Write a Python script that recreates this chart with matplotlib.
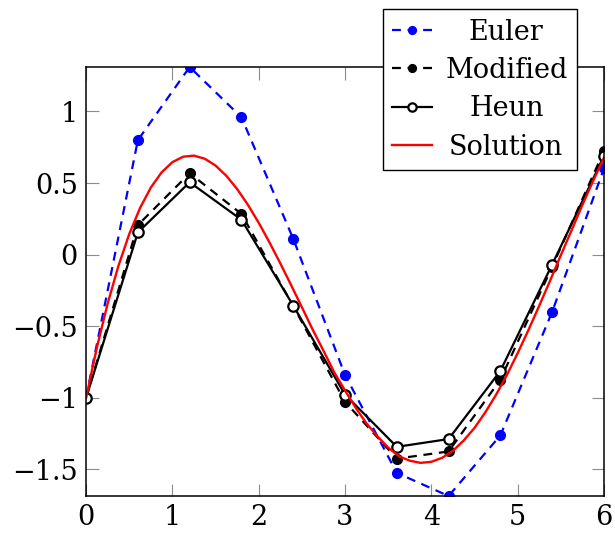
import matplotlib
matplotlib.use("Agg")
import matplotlib.pyplot as plt

plt.rcParams['font.family'] = ['DejaVu Serif']
plt.rcParams['font.size'] = 19.5

# step points (h = 0.6)
x_steps = [0.0, 0.6, 1.2, 1.8, 2.4, 3.0, 3.6, 4.2, 4.8, 5.4, 6.0]
euler = [-1.0, 0.8, 1.3104, 0.959, 0.111, -0.8405, -1.5242, -1.6858, -1.2626, -0.4001, 0.6016]
modified = [-1.0, 0.2064, 0.5685, 0.2842, -0.3592, -1.0278, -1.4247, -1.3746, -0.8737, -0.0847, 0.724]
heun = [-1.0, 0.1552, 0.5055, 0.2438, -0.3555, -0.9772, -1.3424, -1.288, -0.8122, -0.0693, 0.6883]

# exact solution samples (step 0.125)
x_sol = [0.0, 0.125, 0.25, 0.375, 0.5, 0.625, 0.75, 0.875, 1.0, 1.125, 1.25, 1.375,
         1.5, 1.625, 1.75, 1.875, 2.0, 2.125, 2.25, 2.375, 2.5, 2.625, 2.75, 2.875,
         3.0, 3.125, 3.25, 3.375, 3.5, 3.625, 3.75, 3.875, 4.0, 4.125, 4.25, 4.375,
         4.5, 4.625, 4.75, 4.875, 5.0, 5.125, 5.25, 5.375, 5.5, 5.625, 5.75, 5.875, 6.0]
y_sol = [-1.0, -0.6481, -0.3413, -0.0778, 0.1439, 0.3255, 0.4686, 0.5748, 0.646, 0.6841,
         0.6913, 0.6698, 0.622, 0.5505, 0.4582, 0.3478, 0.2225, 0.0852, -0.0609, -0.2125,
         -0.3668, -0.5235, -0.6705, -0.8221, -0.9484, -1.071, -1.1799, -1.2681, -1.3476,
         -1.4082, -1.4392, -1.4543, -1.4471, -1.419, -1.3701, -1.298, -1.2105, -1.1018,
         -0.979, -0.8412, -0.6887, -0.5269, -0.3573, -0.1836, -0.005, 0.1702, 0.3465,
         0.515, 0.6758]

fig = plt.figure(figsize=(6.15, 5.36), dpi=100)
ax = fig.add_axes([0.140, 0.0746, 0.842, 0.8004])

dash = (0, (4, 3))
ax.plot(x_steps, euler, color="blue", ls=dash, lw=1.6, marker="o", ms=7, label="Euler")
ax.plot(x_steps, modified, color="black", ls=dash, lw=1.6, marker="o", ms=7,
        label="Modified")
ax.plot(x_steps, heun, color="black", lw=1.6, marker="o", ms=7.5, mfc="white", mew=1.6,
        label="Heun")
ax.plot(x_sol, y_sol, color="red", lw=1.7, label="Solution")

ax.set_xlim(0, 6)
ax.set_ylim(min(euler), max(euler))
ax.set_xticks([0, 1, 2, 3, 4, 5, 6])
ax.set_yticks([-1.5, -1, -0.5, 0, 0.5, 1])
ax.set_yticklabels(["\u22121.5", "\u22121", "\u22120.5", "0", "0.5", "1"])
ax.tick_params(direction="in", length=9, width=0.8, color="0.55", top=True, right=True,
               labelsize=19.5, pad=6)
for s in ax.spines.values():
    s.set_linewidth(1.1)

leg = ax.legend(loc="upper right", bbox_to_anchor=(0.948, 1.135), borderaxespad=0,
                fancybox=False, edgecolor="black", framealpha=1, fontsize=19.5,
                handlelength=1.45, handletextpad=0.5, labelspacing=0.42,
                borderpad=0.35, markerscale=0.8)
leg.get_frame().set_linewidth(1.0)

# center legend labels like pgfplots
fig.canvas.draw()
widths = [t.get_window_extent().width for t in leg.get_texts()]
wmax = max(widths)
for t, w in zip(leg.get_texts(), widths):
    t.set_x((wmax - w) / 2)

plt.savefig("out.png", dpi=100)
